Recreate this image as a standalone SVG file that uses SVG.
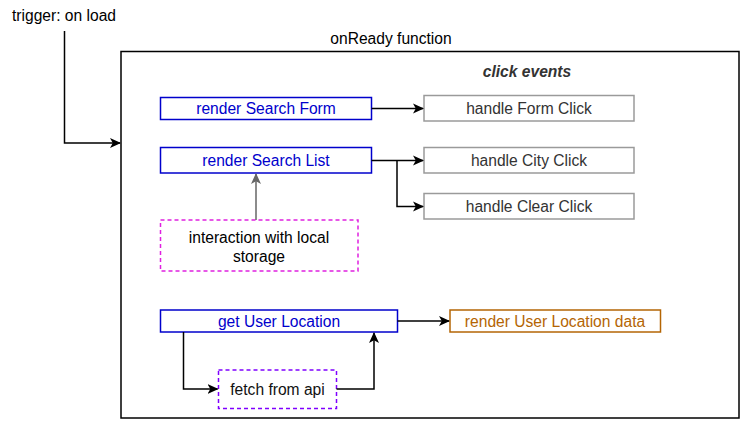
<svg xmlns="http://www.w3.org/2000/svg" width="746" height="426" viewBox="0 0 746 426">
<defs>
<marker id="ah" markerWidth="11" markerHeight="11" refX="10" refY="5.5" orient="auto" markerUnits="userSpaceOnUse">
<path d="M0,0.5 L11,5.5 L0,10.5 L2.8,5.5 Z" fill="#000"/>
</marker>
<marker id="ahg" markerWidth="11" markerHeight="11" refX="10" refY="5.5" orient="auto" markerUnits="userSpaceOnUse">
<path d="M0,0.5 L11,5.5 L0,10.5 L2.8,5.5 Z" fill="#666"/>
</marker>
</defs>
<style>
text{font-family:"Liberation Sans",Arial,sans-serif;font-size:15.6px;text-anchor:middle;dominant-baseline:central}
.blue rect{fill:#fff;stroke:#0000CC;stroke-width:1.5}
.blue text{fill:#0000CC}
.grey rect{fill:#fff;stroke:#9A9A9A;stroke-width:1.5}
.grey text{fill:#333}
.conn path{fill:none;stroke:#000;stroke-width:1.5}
</style>
<rect width="746" height="426" fill="#fff"/>
<g id="onready">
<rect x="121" y="51.5" width="618" height="366.5" fill="none" stroke="#000" stroke-width="1.5"/>
<text x="391" y="38">onReady function</text>
</g>
<g id="trigger"><text x="64" y="15">trigger: on load</text></g>
<g id="click-events"><text x="527" y="71" font-weight="bold" font-style="italic" fill="#333">click events</text></g>
<g id="render-search-form" class="blue"><rect x="160.5" y="97.5" width="211" height="22"/><text x="266" y="108.5">render Search Form</text></g>
<g id="render-search-list" class="blue"><rect x="160.5" y="147.5" width="211" height="25.5"/><text x="266" y="160">render Search List</text></g>
<g id="handle-form-click" class="grey"><rect x="424" y="95.5" width="210" height="25.5"/><text x="529" y="108">handle Form Click</text></g>
<g id="handle-city-click" class="grey"><rect x="424" y="147.5" width="210" height="25.5"/><text x="529" y="160">handle City Click</text></g>
<g id="handle-clear-click" class="grey"><rect x="424" y="193.5" width="210" height="25.5"/><text x="529" y="206">handle Clear Click</text></g>
<g id="local-storage"><rect x="160.5" y="220" width="197.5" height="51" fill="#fff" stroke="#E020E0" stroke-width="1.5" stroke-dasharray="4 3"/><text x="259" y="237">interaction with local</text><text x="259" y="256">storage</text></g>
<g id="get-user-location" class="blue"><rect x="160.5" y="310" width="237" height="22"/><text x="279" y="321">get User Location</text></g>
<g id="render-user-location-data"><rect x="450" y="310" width="210.5" height="22" fill="#fff" stroke="#B46504" stroke-width="1.5"/><text x="555" y="321" fill="#B46504">render User Location data</text></g>
<g id="fetch-from-api"><rect x="218.5" y="370" width="118" height="38.5" fill="#fff" stroke="#7F00FF" stroke-width="1.5" stroke-dasharray="4 3"/><text x="277.5" y="389" fill="#111">fetch from api</text></g>
<g id="connectors" class="conn">
<path d="M64.5,31 V143 H120" marker-end="url(#ah)"/>
<path d="M371.5,108.5 H423" marker-end="url(#ah)"/>
<path d="M371.5,160.5 H423" marker-end="url(#ah)"/>
<path d="M397,160.5 V206.5 H423" marker-end="url(#ah)"/>
<path d="M256,220 V174" style="stroke:#666" marker-end="url(#ahg)"/>
<path d="M397.5,321 H449" marker-end="url(#ah)"/>
<path d="M183.5,332 V389 H217.5" marker-end="url(#ah)"/>
<path d="M336.5,389 H374 V333" marker-end="url(#ah)"/>
</g>
</svg>
